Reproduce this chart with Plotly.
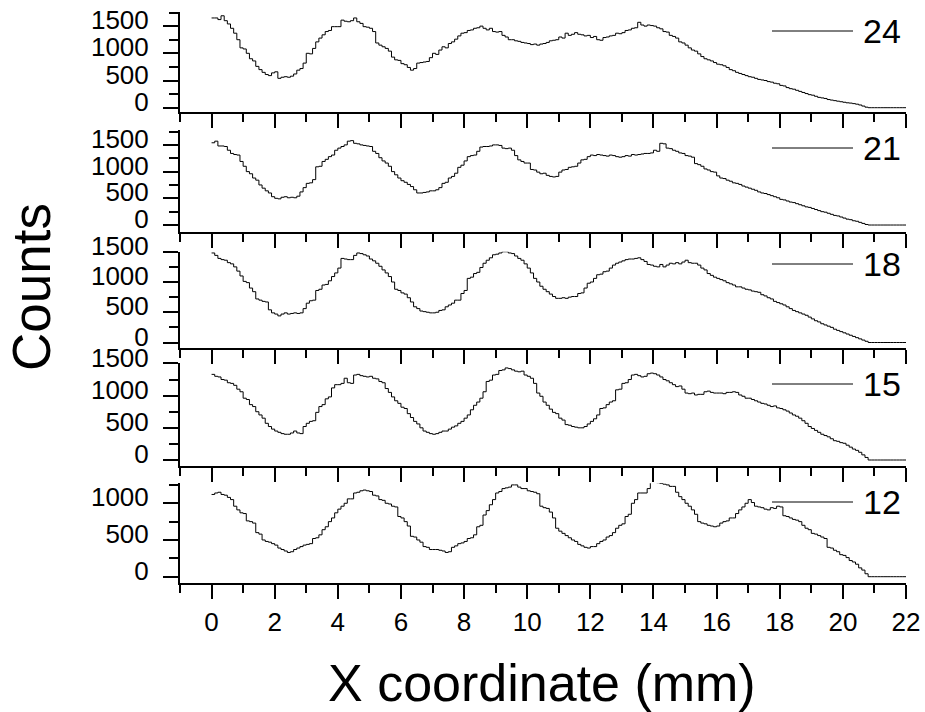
import plotly.graph_objects as go

# Counts per 0.1 mm bin along X, bins starting at 0.0 mm and running to 22.0 mm
BIN_WIDTH = 0.1

counts_24 = [
    1650, 1650, 1620, 1690, 1600, 1540, 1460, 1370, 1250, 1100,
    1080, 1000, 900, 860, 760, 700, 650, 610, 590, 640,
    660, 540, 560, 570, 560, 580, 620, 690, 720, 820,
    1000, 990, 1090, 1210, 1280, 1340, 1400, 1420, 1490, 1490,
    1490, 1610, 1590, 1580, 1600, 1650, 1580, 1550, 1490, 1480,
    1460, 1400, 1190, 1150, 1120, 1090, 1040, 930, 880, 870,
    810, 790, 740, 690, 720, 820, 830, 840, 850, 920,
    1000, 980, 1060, 1120, 1100, 1180, 1210, 1260, 1320, 1370,
    1380, 1420, 1430, 1460, 1470, 1500, 1460, 1430, 1460, 1400,
    1390, 1400, 1330, 1300, 1250, 1250, 1230, 1220, 1200, 1190,
    1180, 1160, 1170, 1150, 1170, 1180, 1200, 1230, 1240, 1250,
    1300, 1280, 1370, 1330, 1350, 1380, 1350, 1340, 1320, 1330,
    1290, 1310, 1250, 1240, 1290, 1300, 1320, 1330, 1370, 1360,
    1380, 1420, 1430, 1460, 1470, 1570, 1520, 1500, 1520, 1510,
    1500, 1470, 1450, 1400, 1390, 1330, 1310, 1280, 1210, 1190,
    1150, 1100, 1060, 1040, 990, 940, 900, 880, 860, 830,
    800, 790, 770, 740, 700, 680, 650, 630, 610, 590,
    570, 560, 540, 520, 510, 500, 480, 470, 450, 440,
    410, 400, 370, 350, 340, 320, 300, 280, 260, 240,
    230, 210, 190, 180, 170, 150, 140, 130, 120, 110,
    100, 90, 85, 75, 65, 50, 30, 10, 0, 0,
    0, 0, 0, 0, 0, 0, 0, 0, 0, 0,
]

counts_21 = [
    1540, 1570, 1480, 1480, 1470, 1400, 1340, 1320, 1310, 1190,
    1100, 1000, 960, 880, 840, 750, 690, 640, 600, 530,
    500, 490, 520, 530, 510, 520, 510, 540, 620, 700,
    780, 790, 850, 1090, 1100, 1190, 1230, 1280, 1310, 1400,
    1440, 1470, 1500, 1570, 1580, 1530, 1520, 1500, 1490, 1480,
    1470, 1380, 1340, 1260, 1200, 1160, 1100, 1000, 940, 880,
    830, 800, 760, 720, 660, 600, 600, 610, 620, 640,
    640, 660, 700, 780, 800, 880, 910, 970, 1080, 1120,
    1200, 1280, 1300, 1310, 1380, 1460, 1470, 1470, 1480, 1500,
    1500, 1490, 1440, 1430, 1440, 1400, 1300, 1220, 1190, 1160,
    1160, 1040, 1030, 990, 960, 970, 930, 910, 900, 910,
    990, 1030, 1040, 1080, 1090, 1100, 1160, 1220, 1230, 1280,
    1310, 1300, 1320, 1310, 1300, 1290, 1310, 1300, 1280, 1270,
    1280, 1300, 1290, 1320, 1310, 1320, 1330, 1340, 1340, 1350,
    1400, 1380, 1530, 1520, 1440, 1430, 1400, 1380, 1350, 1340,
    1300, 1290, 1270, 1150, 1130, 1100, 1050, 1030, 1000, 990,
    920, 880, 870, 840, 820, 790, 780, 760, 730, 710,
    690, 670, 650, 620, 600, 590, 570, 550, 530, 510,
    480, 470, 450, 430, 420, 400, 380, 360, 340, 330,
    310, 290, 270, 250, 240, 220, 200, 180, 170, 150,
    130, 110, 100, 80, 70, 50, 30, 10, 0, 0,
    0, 0, 0, 0, 0, 0, 0, 0, 0, 0,
]

counts_18 = [
    1480, 1440, 1390, 1370, 1360, 1320, 1300, 1250, 1180, 1100,
    1010, 990, 900, 840, 720, 700, 680, 670, 540, 490,
    470, 440, 470, 490, 470, 480, 490, 480, 490, 560,
    650, 690, 700, 860, 880, 950, 960, 1020, 1090, 1150,
    1230, 1390, 1380, 1370, 1370, 1440, 1480, 1470, 1450, 1430,
    1380, 1350, 1310, 1260, 1200, 1150, 1090, 1000, 880, 860,
    820, 800, 740, 670, 590, 560, 520, 510, 500, 490,
    490, 500, 530, 540, 590, 620, 650, 700, 700, 810,
    860, 1060, 1080, 1140, 1160, 1240, 1310, 1360, 1400, 1450,
    1460, 1480, 1500, 1500, 1480, 1470, 1430, 1390, 1360, 1300,
    1230, 1150, 1060, 1000, 930, 880, 840, 800, 760, 730,
    730, 740, 730, 750, 760, 760, 810, 820, 900, 980,
    1000, 1060, 1120, 1130, 1170, 1180, 1230, 1280, 1310, 1330,
    1350, 1370, 1380, 1380, 1390, 1400, 1370, 1340, 1290, 1280,
    1260, 1250, 1290, 1250, 1280, 1310, 1300, 1320, 1300, 1330,
    1360, 1320, 1310, 1310, 1280, 1230, 1200, 1140, 1110, 1080,
    1060, 1040, 1020, 990, 970, 950, 920, 920, 900, 880,
    870, 850, 840, 830, 790, 770, 740, 720, 680, 660,
    640, 620, 590, 560, 530, 510, 490, 470, 450, 420,
    390, 360, 340, 310, 290, 270, 250, 220, 200, 180,
    160, 140, 120, 100, 80, 60, 40, 20, 0, 0,
    0, 0, 0, 0, 0, 0, 0, 0, 0, 0,
]

counts_15 = [
    1330, 1300, 1290, 1250, 1240, 1200, 1190, 1160, 1100, 1060,
    960, 940, 860, 830, 750, 700, 650, 570, 520, 480,
    450, 430, 410, 400, 400, 420, 450, 420, 410, 520,
    570, 600, 610, 740, 830, 860, 950, 980, 1120, 1170,
    1170, 1190, 1270, 1200, 1190, 1320, 1330, 1310, 1300, 1290,
    1300, 1270, 1260, 1220, 1200, 1110, 1050, 980, 920, 880,
    820, 800, 720, 660, 600, 560, 500, 450, 430, 410,
    400, 410, 430, 450, 450, 480, 510, 530, 570, 600,
    650, 700, 780, 850, 900, 960, 1060, 1220, 1240, 1320,
    1330, 1390, 1400, 1430, 1420, 1400, 1380, 1370, 1380, 1320,
    1300, 1270, 1190, 1040, 990, 900, 850, 790, 740, 720,
    650, 620, 550, 540, 520, 510, 500, 500, 520, 560,
    600, 640, 700, 800, 810, 860, 900, 920, 1090, 1100,
    1190, 1200, 1250, 1320, 1330, 1310, 1290, 1300, 1340, 1350,
    1340, 1320, 1290, 1250, 1230, 1200, 1170, 1140, 1150, 1100,
    1040, 1030, 1040, 1010, 1020, 1020, 1060, 1070, 1050, 1040,
    1040, 1040, 1030, 1050, 1050, 1060, 1050, 1010, 990, 960,
    960, 940, 920, 900, 880, 870, 850, 830, 840, 810,
    800, 780, 760, 730, 700, 680, 650, 610, 570, 520,
    490, 460, 430, 400, 380, 360, 330, 300, 290, 270,
    260, 230, 200, 170, 150, 120, 80, 40, 0, 0,
    0, 0, 0, 0, 0, 0, 0, 0, 0, 0,
]

counts_12 = [
    1120, 1140, 1150, 1120, 1110, 1080, 1050, 960, 910, 870,
    860, 760, 750, 730, 600, 580, 500, 480, 470, 450,
    430, 390, 370, 350, 330, 340, 370, 390, 410, 430,
    440, 450, 520, 530, 570, 640, 680, 750, 800, 870,
    920, 960, 1000, 1060, 1060, 1140, 1150, 1170, 1180, 1170,
    1160, 1110, 1100, 1050, 1040, 1000, 990, 960, 950, 820,
    800, 750, 690, 550, 540, 500, 470, 410, 400, 370,
    370, 370, 360, 350, 330, 340, 400, 420, 450, 460,
    480, 520, 530, 570, 680, 700, 840, 900, 980, 1050,
    1140, 1160, 1200, 1210, 1220, 1250, 1250, 1220, 1200, 1200,
    1170, 1160, 1150, 1130, 960, 940, 930, 880, 800, 660,
    620, 590, 560, 530, 500, 480, 440, 420, 400, 390,
    410, 410, 450, 480, 500, 540, 560, 600, 660, 700,
    720, 820, 850, 1000, 1050, 1140, 1140, 1140, 1200, 1290,
    1300, 1280, 1270, 1260, 1250, 1230, 1230, 1150, 1090, 1050,
    1000, 960, 910, 850, 750, 730, 720, 700, 690, 680,
    690, 730, 750, 760, 800, 800, 860, 910, 950, 1000,
    1050, 1010, 960, 950, 940, 920, 910, 940, 930, 960,
    950, 830, 820, 800, 780, 770, 750, 700, 660, 640,
    590, 580, 560, 540, 520, 400, 390, 360, 340, 300,
    290, 260, 220, 200, 170, 120, 90, 40, 0, 0,
    0, 0, 0, 0, 0, 0, 0, 0, 0, 0,
]

series_labels = ["24", "21", "18", "15", "12"]
series_counts = [counts_24, counts_21, counts_18, counts_15, counts_12]

x_ticklabels = [str(v) for v in range(0, 23, 2)]

# ---- layout geometry (paper fractions) ----
W, H = 925, 712
X_DOMAIN = [180 / W, 906 / W]
X_RANGE = [-1, 22]

# panel vertical extents in pixels (top, bottom) and y ranges
panel_px = [(12.3, 112.0), (130.0, 231.7), (251.7, 348.0), (363.3, 466.0), (483.3, 583.3)]
y_ranges = [[-79, 1754], [-125, 1779], [-91, 1501], [-93, 1502], [-90, 1272]]
legend_px = [31, 148, 264, 384, 502]

FONT = "Liberation Sans, Arial, sans-serif"
TICK_FONT = dict(family=FONT, size=26, color="black")
fig = go.Figure()

layout = dict(
    width=W,
    height=H,
    margin=dict(l=0, r=0, t=0, b=0),
    paper_bgcolor="white",
    plot_bgcolor="white",
    showlegend=False,
    font=dict(family=FONT, color="black"),
)

shapes = []
annotations = []

for i, (label, counts) in enumerate(zip(series_labels, series_counts)):
    n = i + 1
    xs = [k * BIN_WIDTH for k in range(len(counts))] + [len(counts) * BIN_WIDTH]
    ys = list(counts) + [counts[-1]]
    fig.add_trace(go.Scatter(
        x=xs, y=ys, mode="lines", line=dict(color="black", width=1, shape="hv"),
        name=label, xaxis=f"x{n}", yaxis=f"y{n}",
    ))

    top, bot = panel_px[i]
    ydom = [1 - bot / H, 1 - top / H]
    bottom_panel = (n == len(series_labels))

    layout[f"xaxis{n}"] = dict(
        domain=X_DOMAIN, range=X_RANGE, anchor=f"y{n}",
        showgrid=False, zeroline=False,
        showline=True, linecolor="black", linewidth=2,
        ticks="outside", ticklen=14, tickwidth=2, tickcolor="black",
        tickmode="array", tickvals=list(range(0, 23, 2)), ticktext=x_ticklabels,
        minor=dict(ticks="outside", ticklen=8, tickwidth=2, tickcolor="black", dtick=1, tick0=-1),
        showticklabels=bottom_panel,
        tickfont=TICK_FONT,
        automargin=False,
    )
    layout[f"yaxis{n}"] = dict(
        domain=ydom, range=y_ranges[i], anchor=f"x{n}",
        showgrid=False, zeroline=False,
        showline=True, linecolor="black", linewidth=2,
        ticks="outside", ticklen=15, tickwidth=2, tickcolor="black",
        tick0=0, dtick=500,
        minor=dict(ticks="outside", ticklen=9, tickwidth=2, tickcolor="black", dtick=250, tick0=0),
        tickfont=TICK_FONT,
        ticklabelshift=-6,
        ticklabelstandoff=9,
        automargin=False,
    )

    # series key: short line plus label at upper right of each panel
    ly = 1 - legend_px[i] / H
    shapes.append(dict(
        type="line", xref="paper", yref="paper",
        x0=772 / W, x1=853 / W, y0=ly, y1=ly,
        line=dict(color="black", width=1),
    ))
    annotations.append(dict(
        xref="paper", yref="paper", x=861 / W, y=ly,
        xanchor="left", yanchor="middle", showarrow=False,
        text=label, font=dict(family=FONT, size=34, color="black"),
    ))

annotations.append(dict(
    xref="paper", yref="paper", x=542 / W, y=1 - 683 / H,
    xanchor="center", yanchor="middle", showarrow=False,
    text="X coordinate (mm)", font=dict(family=FONT, size=52, color="black"),
))
annotations.append(dict(
    xref="paper", yref="paper", x=32 / W, y=1 - 287 / H,
    xanchor="center", yanchor="middle", showarrow=False, textangle=-90,
    text="Counts", font=dict(family=FONT, size=53, color="black"),
))

layout["shapes"] = shapes
layout["annotations"] = annotations
fig.update_layout(**layout)

fig.write_html("out.html")
